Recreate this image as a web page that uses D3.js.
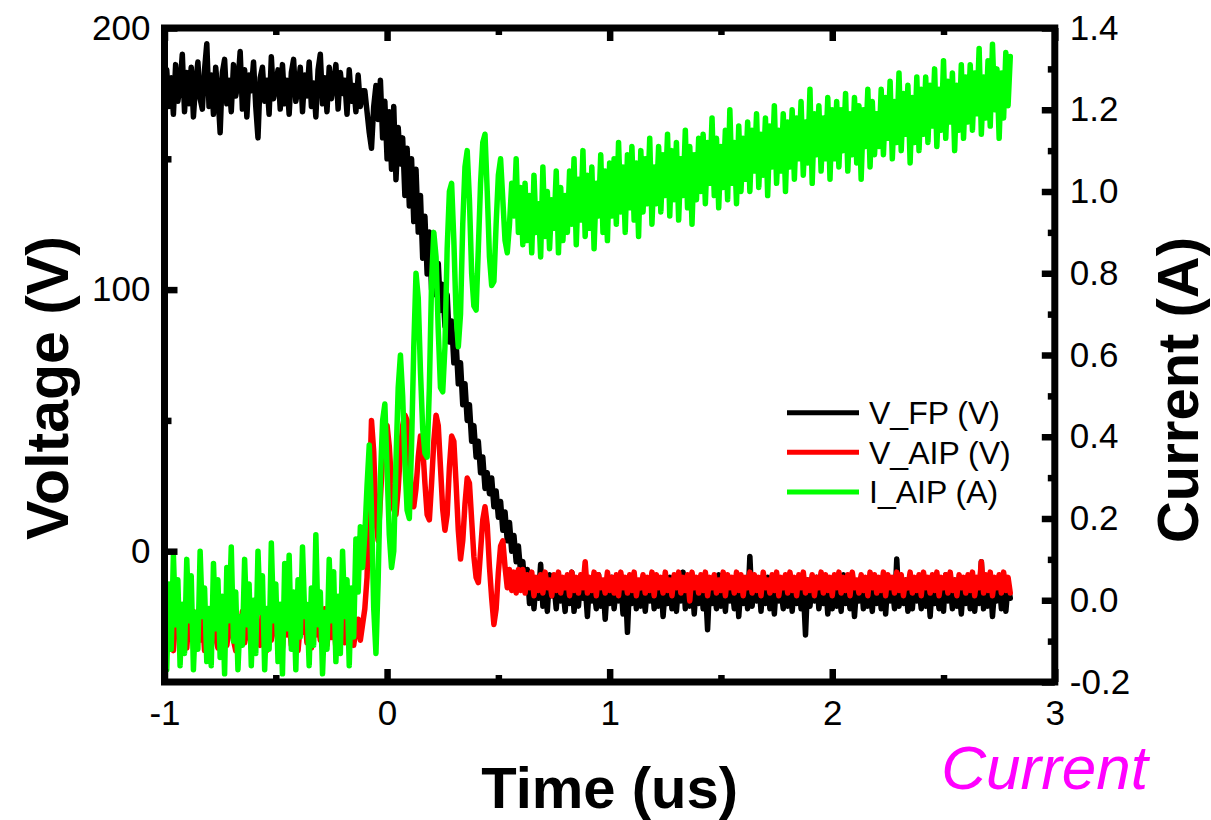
<!DOCTYPE html>
<html>
<head>
<meta charset="utf-8">
<script src="https://cdn.jsdelivr.net/npm/d3@7"></script>
<style>
  body { margin: 0; background: #fff; }
  svg text { font-family: "Liberation Sans", Arial, Helvetica, sans-serif; }
</style>
</head>
<body>
<svg id="chart" width="1211" height="820"></svg>
<script>
// Sampling of the scope traces: first sample time and spacing, in microseconds
const tStart = -1;
const tStep = 0.01;

// Floating-plate voltage V_FP (V)
const voltageFP = [
  176,184,170,181,167,186,172,178,190,168,
  183,171,185,166,179,187,173,169,184,194,
  170,182,167,185,175,160,183,188,171,180,
  168,186,174,179,191,169,184,166,182,176,
  187,170,158,181,185,172,180,167,189,173,
  178,184,169,186,171,180,167,183,188,172,
  177,185,168,182,174,187,170,179,166,184,
  190,171,181,168,185,173,179,186,169,183,
  175,180,167,184,172,178,168,182,170,176,
  // switching edge
  176,168,160,154,170,178,165,180,158,172,
  150,168,146,170,142,162,148,158,136,154,
  132,150,126,146,122,136,112,128,106,122,
  100,118,98,110,92,102,86,98,80,88,
  72,80,64,72,56,64,50,56,42,48,
  36,42,30,36,24,30,22,28,17,23,
  13,19,8,15,4,11,0,6,-4,2,
  -8,
  // on-state
  -4,-15,-7,-20,-10,-22,-11,-18,-5,-21,-12,-23,-9,-17,-13,-22,-10,-19,-14,-23,
  -11,-20,-8,-23,-14,-21,-10,-18,-13,-25,-11,-19,-15,-22,-9,-21,-12,-26,-13,-20,
  -10,-22,-14,-19,-11,-24,-12,-31,-11,-20,-9,-22,-15,-21,-11,-23,-13,-19,-10,-22,
  -12,-21,-11,-25,-14,-20,-10,-22,-13,-23,-12,-19,-8,-22,-14,-21,-11,-24,-12,-20,
  -10,-22,-13,-30,-11,-20,-15,-22,-9,-21,-12,-23,-11,-19,-14,-22,-10,-25,-13,-20,
  -12,-22,-2,-21,-13,-19,-11,-23,-12,-20,-10,-22,-14,-24,-11,-19,-15,-22,-11,-21,
  -9,-23,-13,-20,-11,-22,-14,-32,-11,-21,-12,-19,-10,-22,-15,-20,-11,-24,-13,-22,
  -11,-21,-12,-23,-9,-20,-14,-22,-11,-25,-13,-19,-10,-22,-12,-21,-15,-23,-11,-20,
  -13,-22,-10,-24,-11,-19,-14,-22,-3,-21,-12,-20,-11,-23,-13,-22,-11,-19,-14,-22,
  -10,-21,-12,-25,-11,-20,-15,-22,-11,-23,-9,-19,-13,-22,-11,-21,-14,-24,-12,-20,
  -11,-22,-10,-23,-13,-20,-4,-22,-12,-21,-11,-25,-14,-19,-11,-22,-10,-23,-13,-18
];

// AIP voltage V_AIP (V)
const voltageAIP = [
  -28,-36,-24,-33,-38,-26,-31,-22,-35,-29,
  -37,-25,-32,-23,-36,-28,-34,-24,-38,-30,
  -26,-35,-22,-33,-37,-27,-31,-24,-36,-29,
  -25,-34,-38,-26,-32,-23,-35,-30,-27,-37,
  -24,-33,-29,-36,-22,-31,-38,-26,-34,-28,
  -24,-35,-30,-37,-25,-32,-27,-36,-23,-33,
  -38,-28,-31,-25,-35,-29,-37,-24,-32,-26,
  -34,-30,-22,-36,-28,-33,-25,-37,-29,-31,
  -24,-35,-27,-33,-22,-36,-30,-26,-34,-28,
  // switching edge
  -22,-10,20,50,38,12,4,20,36,46,
  48,40,26,16,14,24,38,48,52,50,
  36,22,17,24,36,44,40,26,14,12,
  26,42,52,48,32,16,8,14,32,44,
  42,26,8,-3,4,18,28,26,12,-2,
  -10,-12,0,12,17,10,-6,-18,-28,-22,
  -8,2,4,-6,-14,-7,-15,-8,-16,-7,
  -15,
  // on-state
  -7,-16,-9,-14,-8,-17,-10,-15,-9,-16,-8,-14,-11,-17,-9,-15,-8,-16,-10,-14,
  -9,-17,-8,-15,-10,-16,-9,-14,-4,-16,-10,-15,-8,-17,-9,-14,-11,-16,-8,-15,
  -10,-16,-9,-17,-8,-14,-10,-16,-9,-15,-8,-17,-11,-14,-9,-16,-10,-15,-8,-17,
  -9,-14,-10,-16,-8,-15,-11,-17,-9,-14,-8,-16,-10,-15,-9,-19,-8,-14,-10,-16,
  -9,-15,-8,-17,-10,-14,-9,-16,-11,-15,-8,-17,-9,-14,-10,-16,-8,-15,-9,-17,
  -10,-14,-8,-16,-9,-15,-10,-17,-8,-14,-11,-16,-9,-15,-8,-17,-10,-14,-9,-16,
  -8,-15,-10,-17,-9,-14,-8,-16,-11,-15,-9,-17,-10,-14,-8,-16,-9,-15,-10,-17,
  -9,-14,-8,-16,-10,-15,-9,-17,-8,-14,-11,-16,-9,-15,-10,-17,-8,-14,-9,-16,
  -10,-15,-8,-17,-9,-14,-10,-16,-8,-15,-9,-17,-11,-14,-8,-16,-10,-15,-9,-17,
  -8,-14,-10,-16,-9,-15,-8,-17,-10,-14,-9,-16,-8,-15,-11,-17,-9,-14,-10,-16,
  -9,-15,-8,-17,-10,-14,-4,-16,-9,-15,-8,-17,-10,-14,-9,-16,-8,-15,-10,-16
];

// AIP current I_AIP (A)
const currentAIP = [
  -0.02,-0.17,0.04,-0.12,0.11,-0.06,0.05,-0.16,-0.01,-0.13,
  0.10,-0.05,0.06,-0.17,-0.03,-0.12,0.12,-0.04,0.03,-0.15,
  -0.02,-0.16,0.09,-0.07,0.05,-0.14,0.01,-0.18,0.08,-0.05,
  0.13,-0.10,0.02,-0.17,-0.04,-0.11,0.10,-0.06,0.04,-0.16,
  0.00,-0.13,0.12,-0.03,0.06,-0.17,-0.02,-0.12,0.14,-0.05,
  0.04,-0.15,-0.01,-0.18,0.09,-0.07,0.11,-0.12,0.02,-0.17,
  0.05,-0.09,0.13,-0.04,-0.01,-0.16,0.03,-0.11,0.16,-0.06,
  0.02,-0.18,-0.03,-0.12,0.10,-0.05,0.07,-0.15,0.01,-0.13,
  0.12,-0.04,0.05,-0.16,0.03,-0.09,0.15,0.02,0.18,0.08,
  // switching edge
  0.16,0.28,0.38,0.22,-0.02,-0.13,0.05,0.30,0.44,0.48,
  0.32,0.16,0.08,0.12,0.34,0.52,0.60,0.50,0.34,0.22,
  0.20,0.38,0.62,0.80,0.74,0.56,0.42,0.36,0.35,0.52,
  0.78,0.90,0.84,0.66,0.52,0.51,0.62,0.86,1.00,1.02,
  0.88,0.70,0.62,0.70,0.92,1.06,1.10,0.98,0.80,0.72,
  0.71,0.86,1.02,1.12,1.14,1.00,0.84,0.77,0.78,0.92,
  1.04,1.08,0.98,0.88,0.85,0.92,1.02,0.94,1.08,0.90,
  1.01,
  // on-state
  0.87,1.02,0.88,0.99,0.85,1.04,0.90,0.97,0.84,1.06,0.89,1.00,0.86,0.98,0.91,1.05,0.85,1.01,0.88,0.99,
  0.90,1.05,0.92,1.08,0.87,1.03,0.93,1.10,0.89,1.04,0.91,1.06,0.86,1.02,0.94,1.09,0.90,1.05,0.88,1.07,
  0.94,1.08,0.92,1.12,0.95,1.06,0.90,1.09,0.96,1.11,0.93,1.07,0.89,1.10,0.95,1.08,0.97,1.13,0.92,1.06,
  0.97,1.11,0.95,1.09,0.99,1.14,0.94,1.10,0.98,1.12,0.93,1.08,0.99,1.15,0.96,1.11,0.92,1.09,0.98,1.13,
  1.00,1.14,0.97,1.12,1.02,1.18,0.99,1.13,0.96,1.11,1.01,1.15,0.98,1.20,1.02,1.12,0.97,1.16,1.00,1.13,
  1.03,1.17,1.00,1.15,1.05,1.19,1.01,1.14,1.04,1.18,0.99,1.16,1.06,1.21,1.02,1.15,1.05,1.19,1.00,1.17,
  1.06,1.20,1.03,1.18,1.08,1.22,1.04,1.17,1.07,1.25,1.02,1.19,1.09,1.21,1.05,1.18,1.08,1.23,1.03,1.20,
  1.08,1.22,1.06,1.20,1.10,1.24,1.05,1.19,1.09,1.23,1.07,1.21,1.03,1.20,1.11,1.25,1.06,1.22,1.09,1.19,
  1.11,1.25,1.09,1.23,1.13,1.27,1.08,1.22,1.12,1.29,1.10,1.24,1.14,1.26,1.07,1.23,1.12,1.28,1.10,1.25,
  1.14,1.28,1.12,1.26,1.16,1.30,1.11,1.25,1.15,1.32,1.13,1.27,1.17,1.29,1.10,1.26,1.15,1.31,1.13,1.28,
  1.17,1.31,1.15,1.29,1.19,1.35,1.14,1.28,1.18,1.32,1.16,1.36,1.20,1.30,1.13,1.29,1.18,1.34,1.21,1.33
];

// Axis ticks
const timeTicks = [-1, 0, 1, 2, 3];
const timeMinorTicks = [-0.5, 0.5, 1.5, 2.5];
const voltageTicks = [0, 100, 200];
const voltageMinorTicks = [50, 150];
const currentTicks = [-0.2, 0, 0.2, 0.4, 0.6, 0.8, 1.0, 1.2, 1.4];
const currentMinorTicks = [-0.1, 0.1, 0.3, 0.5, 0.7, 0.9, 1.1, 1.3];

// Legend entries
const seriesNames = ["V_FP (V)", "V_AIP (V)", "I_AIP (A)"];
const seriesColors = ["#000000", "#ff0000", "#00ff00"];

// ---- layout ----
const plot = { left: 164.5, right: 1054.8, top: 28, bottom: 682 };
const svg = d3.select("#chart");

const x = d3.scaleLinear().domain([-1, 3]).range([plot.left, plot.right]);
const yV = d3.scaleLinear().domain([-50, 200]).range([plot.bottom, plot.top]);
const yI = d3.scaleLinear().domain([-0.2, 1.4]).range([plot.bottom, plot.top]);

svg.append("rect").attr("width", 1211).attr("height", 820).attr("fill", "#fff");

svg.append("defs").append("clipPath").attr("id", "plotClip")
  .append("rect")
  .attr("x", plot.left).attr("y", plot.top)
  .attr("width", plot.right - plot.left).attr("height", plot.bottom - plot.top);

const timeAt = i => tStart + i * tStep;
const lineV = d3.line().x((d, i) => x(timeAt(i))).y(d => yV(d));
const lineI = d3.line().x((d, i) => x(timeAt(i))).y(d => yI(d));

const traces = svg.append("g").attr("clip-path", "url(#plotClip)");
[
  { data: voltageFP, gen: lineV, color: seriesColors[0] },
  { data: voltageAIP, gen: lineV, color: seriesColors[1] },
  { data: currentAIP, gen: lineI, color: seriesColors[2] }
].forEach(s => {
  traces.append("path")
    .datum(s.data)
    .attr("d", s.gen)
    .attr("fill", "none")
    .attr("stroke", s.color)
    .attr("stroke-width", 5.5)
    .attr("stroke-linejoin", "round")
    .attr("stroke-linecap", "round");
});

// ---- axes (inward ticks on all four sides) ----
function styleAxis(g, fontSize) {
  g.select(".domain").remove();
  g.selectAll(".tick line").attr("stroke", "#000").attr("stroke-width", 6.5);
  g.selectAll(".tick text").attr("fill", "#000").attr("font-size", fontSize)
    .attr("font-family", "'Liberation Sans', Arial, sans-serif");
}

const major = 13, minor = 7, tickFont = 35;

svg.append("g").attr("transform", `translate(0,${plot.bottom})`)
  .call(d3.axisBottom(x).tickValues(timeTicks).tickSizeInner(-major).tickSizeOuter(0)
    .tickPadding(18).tickFormat(d => String(d)))
  .call(g => styleAxis(g, tickFont));
svg.append("g").attr("transform", `translate(0,${plot.bottom})`)
  .call(d3.axisBottom(x).tickValues(timeMinorTicks).tickSizeInner(-minor).tickSizeOuter(0).tickFormat(""))
  .call(g => styleAxis(g, tickFont));

svg.append("g").attr("transform", `translate(0,${plot.top})`)
  .call(d3.axisTop(x).tickValues(timeTicks).tickSizeInner(-major).tickSizeOuter(0).tickFormat(""))
  .call(g => styleAxis(g, tickFont));
svg.append("g").attr("transform", `translate(0,${plot.top})`)
  .call(d3.axisTop(x).tickValues(timeMinorTicks).tickSizeInner(-minor).tickSizeOuter(0).tickFormat(""))
  .call(g => styleAxis(g, tickFont));

svg.append("g").attr("transform", `translate(${plot.left},0)`)
  .call(d3.axisLeft(yV).tickValues(voltageTicks).tickSizeInner(-major).tickSizeOuter(0)
    .tickPadding(14).tickFormat(d => String(d)))
  .call(g => styleAxis(g, tickFont));
svg.append("g").attr("transform", `translate(${plot.left},0)`)
  .call(d3.axisLeft(yV).tickValues(voltageMinorTicks).tickSizeInner(-minor).tickSizeOuter(0).tickFormat(""))
  .call(g => styleAxis(g, tickFont));

svg.append("g").attr("transform", `translate(${plot.right},0)`)
  .call(d3.axisRight(yI).tickValues(currentTicks).tickSizeInner(-major).tickSizeOuter(0)
    .tickPadding(15).tickFormat(d => d.toFixed(1)))
  .call(g => styleAxis(g, tickFont));
svg.append("g").attr("transform", `translate(${plot.right},0)`)
  .call(d3.axisRight(yI).tickValues(currentMinorTicks).tickSizeInner(-minor).tickSizeOuter(0).tickFormat(""))
  .call(g => styleAxis(g, tickFont));

// plot frame
svg.append("rect")
  .attr("x", plot.left).attr("y", plot.top)
  .attr("width", plot.right - plot.left).attr("height", plot.bottom - plot.top)
  .attr("fill", "none").attr("stroke", "#000").attr("stroke-width", 7)
  .attr("stroke-linejoin", "miter");

// ---- axis titles ----
svg.append("text")
  .attr("x", (plot.left + plot.right) / 2).attr("y", 808)
  .attr("text-anchor", "middle").attr("font-size", 58).attr("font-weight", "bold")
  .text("Time (us)");

svg.append("text")
  .attr("transform", `translate(68,${(plot.top + plot.bottom) / 2 + 33}) rotate(-90)`)
  .attr("text-anchor", "middle").attr("font-size", 59).attr("font-weight", "bold")
  .text("Voltage (V)");

svg.append("text")
  .attr("transform", `translate(1198,${(plot.top + plot.bottom) / 2 + 35}) rotate(-90)`)
  .attr("text-anchor", "middle").attr("font-size", 58).attr("font-weight", "bold")
  .text("Current (A)");

svg.append("text")
  .attr("x", 1148).attr("y", 789)
  .attr("text-anchor", "end").attr("font-size", 62).attr("font-style", "italic")
  .attr("fill", "#ff00ff")
  .text("Current");

// ---- legend ----
const legend = svg.append("g");
seriesNames.forEach((name, i) => {
  const ly = 412.7 + i * 39.65;
  legend.append("line")
    .attr("x1", 787).attr("x2", 859).attr("y1", ly).attr("y2", ly)
    .attr("stroke", seriesColors[i]).attr("stroke-width", 5);
  legend.append("text")
    .attr("x", 869).attr("y", ly).attr("dy", "0.35em")
    .attr("font-size", 32).attr("fill", "#000")
    .text(name);
});
</script>
</body>
</html>
